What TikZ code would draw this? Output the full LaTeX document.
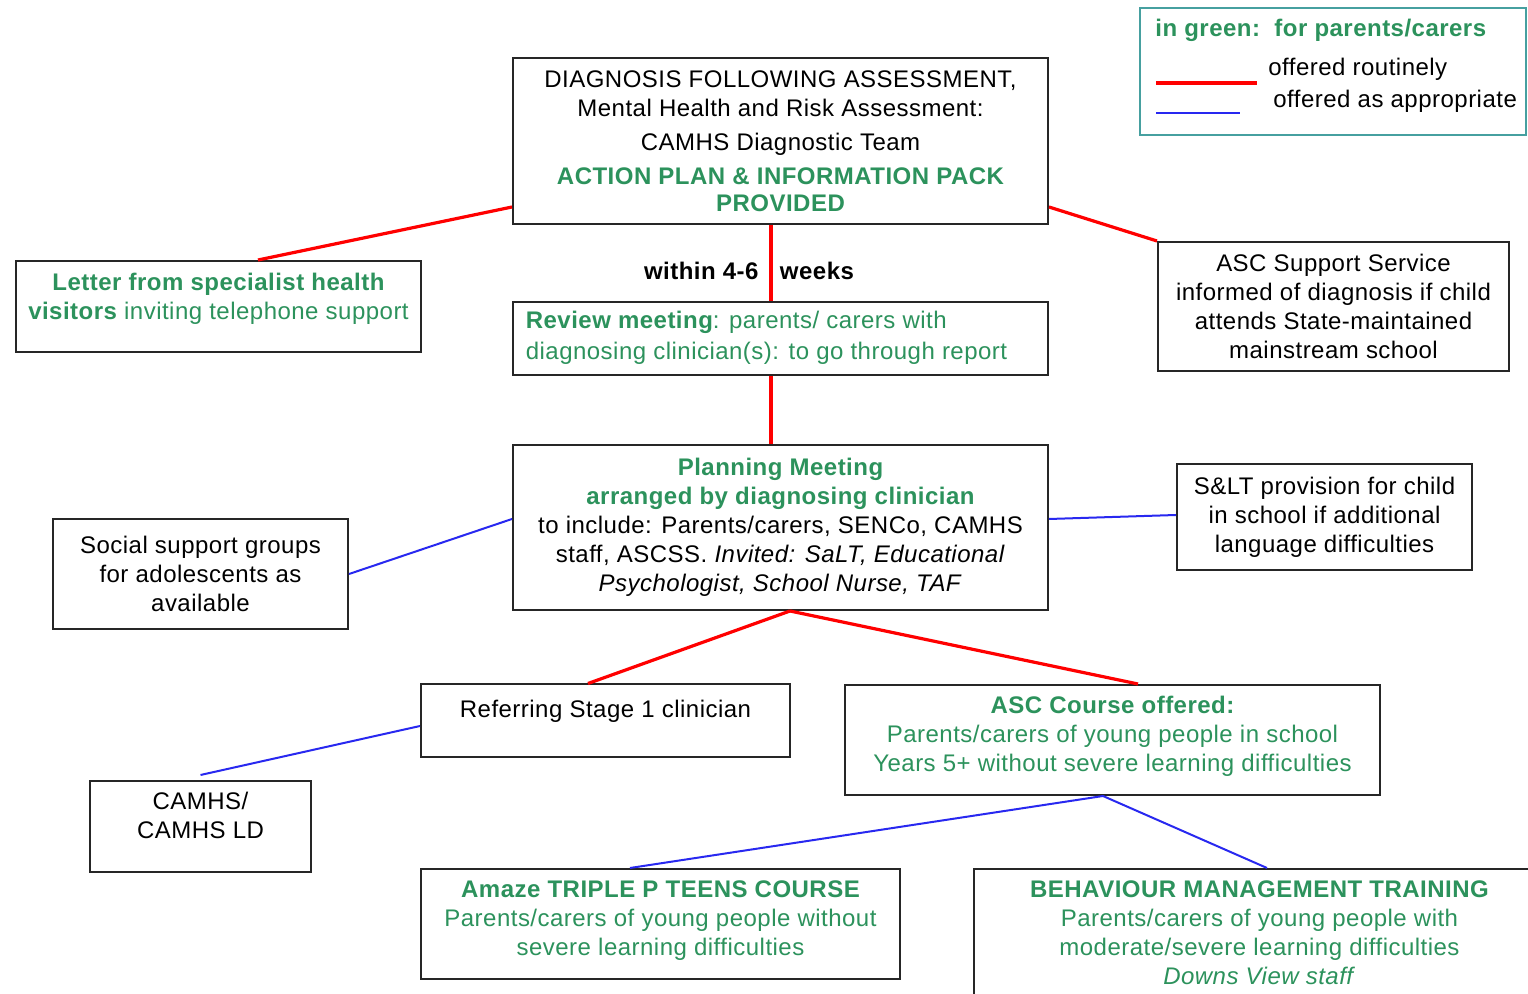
\documentclass[tikz,border=0pt]{standalone}
\usepackage{fontspec}
\setmainfont{Liberation Sans}[LetterSpace=2.0]
\definecolor{grn}{RGB}{44,146,92}
\definecolor{teal2}{RGB}{70,160,160}
\definecolor{bl}{RGB}{40,40,240}
\begin{document}
\begin{tikzpicture}[x=0.5pt,y=-0.5pt,
  box/.style={draw=black!85, line width=1pt, align=center, inner sep=0pt,
    font=\fontsize{12}{14.5}\selectfont},
  gbox/.style={box, text=grn},
  redln/.style={draw=red, line width=1.6pt},
  bluln/.style={draw=bl, line width=1pt},
  gb/.style={text=grn, font=\fontsize{12}{14.5}\selectfont\bfseries}]
\clip (0,0) rectangle (1528,994);
\fill[white] (0,0) rectangle (1528,994);

% legend
\node[draw=teal2, line width=1pt, minimum width=193pt, minimum height=63.5pt, inner sep=0pt] (legend) at (1333,71.5) {};
\node[gb, anchor=west, inner sep=0pt] (legtitle) at (1155,30) {in green:\ \ for parents/carers};
\coordinate (r1) at (1156,83);
\coordinate (r2) at (1257,83);
\coordinate (b1) at (1156,113);
\coordinate (b2) at (1240,113);
\draw[redln] (r1) -- (r2);
\draw[bluln] (b1) -- (b2);
\node[anchor=west, inner sep=0pt, font=\fontsize{12}{14.5}\selectfont] (legr) at (1268,69) {offered routinely};
\node[anchor=west, inner sep=0pt, font=\fontsize{12}{14.5}\selectfont] (legb) at (1273,101) {offered as appropriate};

% boxes
\node[box, minimum width=267.5pt, minimum height=83pt] (top) at (780.5,141) {DIAGNOSIS FOLLOWING ASSESSMENT,\\ Mental Health and Risk Assessment:\\[2.5pt] CAMHS Diagnostic Team\\[2.5pt] {\color{grn}\bfseries ACTION PLAN \& INFORMATION PACK}\\[-1pt] {\color{grn}\bfseries PROVIDED}};

\node[gbox, minimum width=202.5pt, minimum height=45.5pt] (letter) at (218.5,306.5) {{\bfseries Letter from specialist health}\\ {\bfseries visitors} inviting telephone support\\[-9pt]\strut};

\node[box, minimum width=175.5pt, minimum height=64.5pt] (asc) at (1333.5,306.5) {ASC Support Service\\ informed of diagnosis if child\\ attends State-maintained\\ mainstream school};

\node[gbox, minimum width=267.5pt, minimum height=36.5pt] (review) at (780.5,338.5) {\begin{tabular}{@{}l@{}}{\bfseries Review meeting}: parents/ carers with\\[1pt] diagnosing clinician(s): to go through report\end{tabular}\hspace*{14pt}};

\node[box, minimum width=267.5pt, minimum height=82.5pt] (plan) at (780.5,527.5) {{\color{grn}\bfseries Planning Meeting}\\ {\color{grn}\bfseries arranged by diagnosing clinician}\\ to include: Parents/carers, SENCo, CAMHS\\ staff, ASCSS. \textit{Invited: SaLT, Educational}\\ \textit{Psychologist, School Nurse, TAF}};

\node[box, minimum width=147.5pt, minimum height=55pt] (social) at (200.5,574) {Social support groups\\ for adolescents as\\ available};

\node[box, minimum width=147.5pt, minimum height=53pt] (slt) at (1324.5,517) {S\&LT provision for child\\ in school if additional\\ language difficulties};

\node[box, minimum width=184.5pt, minimum height=36.5pt] (ref) at (605.5,721) {Referring Stage 1 clinician\\[-7pt]\strut};

\node[gbox, minimum width=267.5pt, minimum height=55pt] (course) at (1112.5,740) {{\bfseries ASC Course offered:}\\ Parents/carers of young people in school\\ Years 5+ without severe learning difficulties\\[-13pt]\strut};

\node[box, minimum width=110.5pt, minimum height=45.5pt] (camhs) at (200.5,826.5) {CAMHS/\\ CAMHS LD\\[-8pt]\strut};

\node[gbox, minimum width=239.5pt, minimum height=55pt] (amaze) at (660.5,924) {{\bfseries Amaze TRIPLE P TEENS COURSE}\\ Parents/carers of young people without\\ severe learning difficulties\\[-13pt]\strut};

\node[gbox, minimum width=285.5pt, minimum height=70.5pt] (beh) at (1259.5,939.5) {{\bfseries BEHAVIOUR MANAGEMENT TRAINING}\\ Parents/carers of young people with\\ moderate/severe learning difficulties\\ \textit{Downs View staff}\\[-12pt]\strut};

\node[font=\fontsize{12}{14.5}\selectfont\bfseries, inner sep=0pt] (within) at (749,271) {within 4-6 \ \ weeks};

% red connectors
\draw[redln] ([yshift=9pt]top.south west) -- ([xshift=19.75pt]letter.north);
\draw[redln] ([yshift=9pt]top.south east) -- (asc.north west);
\draw[redln] ([xshift=-4.75pt]top.south) -- ([xshift=-4.75pt]review.north);
\draw[redln] ([xshift=-4.75pt]review.south) -- ([xshift=-4.75pt]plan.north);
\draw[redln] ([xshift=4.75pt]plan.south) -- ([xshift=-8.75pt]ref.north);
\draw[redln] ([xshift=4.75pt]plan.south) -- ([xshift=12.75pt]course.north);

% blue connectors
\draw[bluln] ([yshift=4.25pt]plan.west) -- (social.east);
\draw[bluln] ([yshift=4.25pt]plan.east) -- ([yshift=1pt]slt.west);
\draw[bluln] ([yshift=-2.5pt]ref.west) -- ([yshift=2.5pt]camhs.north);
\draw[bluln] ([xshift=-4.75pt]course.south) -- ([xshift=-15.25pt]amaze.north);
\draw[bluln] ([xshift=-4.75pt]course.south) -- ([xshift=3.75pt]beh.north);
\end{tikzpicture}
\end{document}
